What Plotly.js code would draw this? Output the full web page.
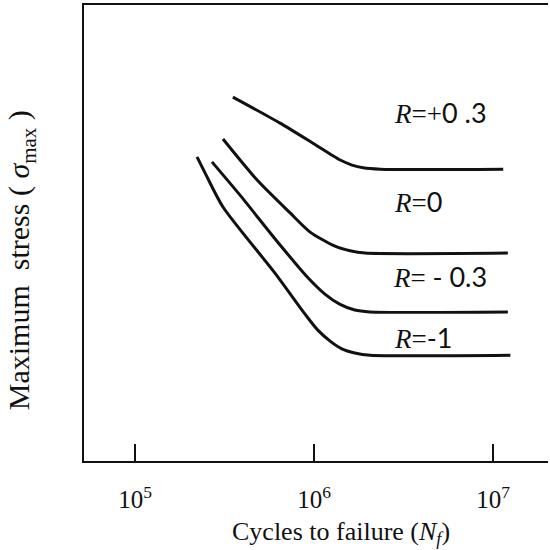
<!DOCTYPE html>
<html>
<head>
<meta charset="utf-8">
<script src="https://cdn.plot.ly/plotly-3.0.1.min.js"></script>
<style>
  html, body { margin: 0; padding: 0; background: #fff; }
  #chart { width: 550px; height: 550px; }
</style>
</head>
<body>
<div id="chart"></div>
<script>
// S-N curves: maximum stress vs cycles to failure for several stress ratios R
// (stress in relative units)
const seriesNames = ["R = +0.3", "R = 0", "R = -0.3", "R = -1"];

const cyclesR03 = [3.52e5, 6.46e5, 9.86e5, 1.40e6, 1.63e6, 1.88e6, 2.34e6, 1.14e7];
const stressR03 = [79.8, 74.1, 69.7, 66.0, 64.9, 64.3, 64.0, 64.0];

const cyclesR0 = [3.10e5, 4.81e5, 7.35e5, 9.51e5, 1.31e6, 1.59e6, 1.93e6, 1.21e7];
const stressR0 = [70.6, 61.6, 54.4, 50.2, 47.1, 46.1, 45.6, 45.6];

const cyclesRm03 = [2.69e5, 3.86e5, 6.21e5, 9.14e5, 1.15e6, 1.39e6, 1.69e6, 2.05e6, 1.21e7];
const stressRm03 = [65.6, 58.3, 48.2, 40.4, 36.6, 34.4, 33.1, 32.7, 32.7];

const cyclesRm1 = [2.22e5, 2.46e5, 3.10e5, 6.05e5, 8.91e5, 1.05e6, 1.23e6, 1.43e6, 1.69e6, 2.06e6, 1.25e7];
const stressRm1 = [66.7, 63.2, 55.7, 41.2, 32.2, 28.7, 26.3, 24.6, 23.7, 23.2, 23.2];

// curve labels: text and anchor (cycles, stress)
const labelTexts = [
  "<i>R</i>=+<span style=\"font-family:Lato\">0 .3</span>",
  "<i>R</i>=<span style=\"font-family:Lato\">0</span>",
  "<i>R</i>= <span style=\"font-family:Lato\">- 0.3</span>",
  "<i>R</i>=<span style=\"font-family:Lato\">-1</span>"
];
const labelCycles = [2.73e6, 2.73e6, 2.68e6, 2.73e6];
const labelStress = [76.5, 57.0, 40.4, 27.0];

// decade ticks on the cycles axis
const tickValues = [1e5, 1e6, 1e7];
const tickLabels = ["10<sup>5</sup>", "10<sup>6</sup>", "10<sup>7</sup>"];

const xTitle = "Cycles to failure (<i>N</i><sub><i>f</i></sub>)";
const yTitle = "Maximum\u00a0\u00a0stress\u00a0(\u00a0<i>\u03c3</i><sub>max</sub>\u00a0)";

const xs = [cyclesR03, cyclesR0, cyclesRm03, cyclesRm1];
const ys = [stressR03, stressR0, stressRm03, stressRm1];

const traces = xs.map((x, i) => ({
  type: "scatter",
  mode: "lines",
  name: seriesNames[i],
  x: x,
  y: ys[i],
  line: { color: "#111", width: 3, shape: "spline", smoothing: 0.7 },
  hoverinfo: "skip"
}));

const serif = "Liberation Serif, Times New Roman, serif";

const annotations = labelTexts.map((t, i) => ({
  x: Math.log10(labelCycles[i]),
  y: labelStress[i],
  xref: "x",
  yref: "y",
  text: t,
  showarrow: false,
  xanchor: "left",
  yanchor: "middle",
  font: { family: serif, size: 27, color: "#111" }
}));

// axis titles placed as paper annotations
annotations.push({
  xref: "paper", yref: "paper",
  x: 0.553, y: -0.158,
  xanchor: "center", yanchor: "middle",
  text: xTitle, showarrow: false,
  font: { family: serif, size: 26, color: "#111" }
});
annotations.push({
  xref: "paper", yref: "paper",
  x: -0.135, y: 0.441,
  xanchor: "center", yanchor: "middle",
  textangle: -90,
  text: yTitle, showarrow: false,
  font: { family: serif, size: 30, color: "#111" }
});

const layout = {
  width: 550,
  height: 550,
  margin: { l: 84, r: 2, t: 5, b: 89 },
  paper_bgcolor: "#fff",
  plot_bgcolor: "#fff",
  showlegend: false,
  xaxis: {
    type: "log",
    range: [4.715, 7.307],
    tickmode: "array",
    tickvals: tickValues,
    ticktext: tickLabels,
    ticks: "inside",
    ticklen: 17,
    tickwidth: 2,
    tickcolor: "#111",
    ticklabelstandoff: 15,
    tickfont: { family: serif, size: 25, color: "#111" },
    showline: true,
    linecolor: "#111",
    linewidth: 2,
    mirror: true,
    showgrid: false,
    zeroline: false
  },
  yaxis: {
    range: [0, 100],
    showticklabels: false,
    ticks: "",
    showline: true,
    linecolor: "#111",
    linewidth: 2,
    showgrid: false,
    zeroline: false
  },
  annotations: annotations
};

Plotly.newPlot("chart", traces, layout, { displayModeBar: false, staticPlot: true });
</script>
</body>
</html>
